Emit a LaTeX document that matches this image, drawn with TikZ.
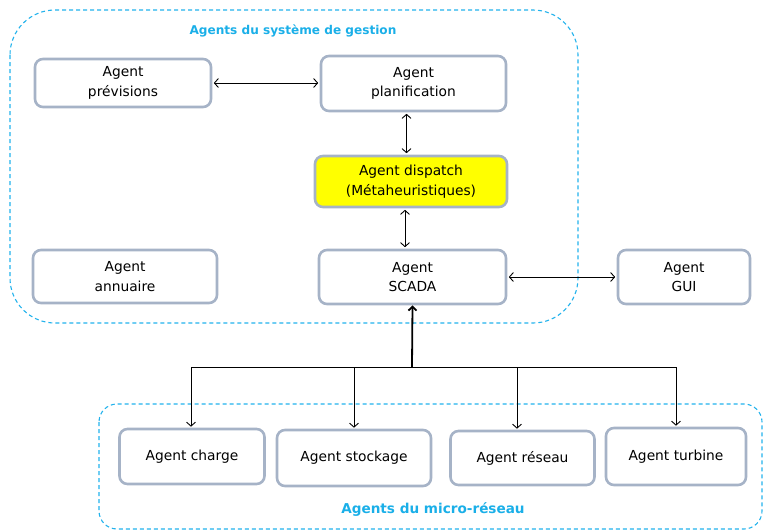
\documentclass[tikz,border=0pt]{standalone}
\usepackage{fontspec}
\setmainfont{DejaVu Sans}
\usetikzlibrary{arrows.meta}
\definecolor{boxline}{HTML}{A6B3C7}
\definecolor{cyanline}{HTML}{22B2EC}
\definecolor{cyantext}{HTML}{1AAFE8}
\definecolor{dispfill}{HTML}{FFFF00}
\tikzset{
  agent/.style={draw=boxline, line width=2.6pt, rounded corners=8pt, fill=white,
    align=center, inner sep=0pt, font=\fontsize{13.8}{19.5}\selectfont},
  group/.style={draw=cyanline, line width=1.1pt, dash pattern=on 4pt off 3pt},
  grouplabel/.style={text=cyantext, font=\fontsize{12.1}{14}\selectfont\bfseries},
  link/.style={line width=0.9pt, {Straight Barb[length=4pt,width=9pt]}-{Straight Barb[length=4pt,width=9pt]}, shorten <=1.5pt, shorten >=1.5pt},
  down/.style={line width=0.9pt, -{Straight Barb[length=4pt,width=9pt]}},
}
\begin{document}
\begin{tikzpicture}[x=1pt,y=-1pt]
\useasboundingbox (0,0) rectangle (764,531);
% containers
\draw[group, rounded corners=45pt] (10,10) rectangle (578,323);
\draw[group, rounded corners=18pt] (99,404) rectangle (762,529);
\node[grouplabel] (gtitle) at (293,31) {Agents du système de gestion};
\node[grouplabel, font=\fontsize{13.6}{16}\selectfont\bfseries] (btitle) at (433,510) {Agents du micro-réseau};
% agents
\node[agent, minimum width=176pt, minimum height=48pt] (prev) at (123,83) {Agent\\prévisions};
\node[agent, minimum width=185pt, minimum height=55pt] (plan) at (413.5,83.5) {Agent\\planification};
\node[agent, fill=dispfill, minimum width=192pt, minimum height=51pt] (disp) at (411,181.5) {Agent dispatch\\(Métaheuristiques)};
\node[agent, minimum width=184pt, minimum height=53pt] (ann) at (125,276.5) {Agent\\annuaire};
\node[agent, minimum width=187pt, minimum height=54pt] (scada) at (412.5,277) {Agent\\SCADA};
\node[agent, minimum width=132pt, minimum height=54pt] (gui) at (684,277) {Agent\\GUI};
\node[agent, minimum width=145pt, minimum height=55pt] (charge) at (192,456.5) {Agent charge};
\node[agent, minimum width=154pt, minimum height=56pt] (stock) at (354,458) {Agent stockage};
\node[agent, minimum width=144pt, minimum height=54pt] (reseau) at (522.5,458) {Agent réseau};
\node[agent, minimum width=140pt, minimum height=57pt] (turb) at (676,456.5) {Agent turbine};
% links
\draw[link] (prev.east) -- (plan.west |- prev.east);
\draw[link] ([xshift=-7pt]plan.south) -- ([xshift=-7pt]plan.south |- disp.north);
\draw[link] ([xshift=-6pt]disp.south) -- ([xshift=-6pt]disp.south |- scada.north);
\draw[link] (scada.east) -- (gui.west);
\coordinate (hub) at (412,367);
\draw[line width=1.8pt, -{Straight Barb[length=4pt,width=8pt]}] (hub) -- (scada.south);
\draw[down] (hub) -| ([xshift=-1pt,yshift=1pt]charge.north);
\draw[down] (hub) -| ([yshift=1pt]stock.north);
\draw[down] (hub) -| ([xshift=-5.5pt,yshift=1pt]reseau.north);
\draw[down] (hub) -| ([yshift=1pt]turb.north);
\end{tikzpicture}
\end{document}
